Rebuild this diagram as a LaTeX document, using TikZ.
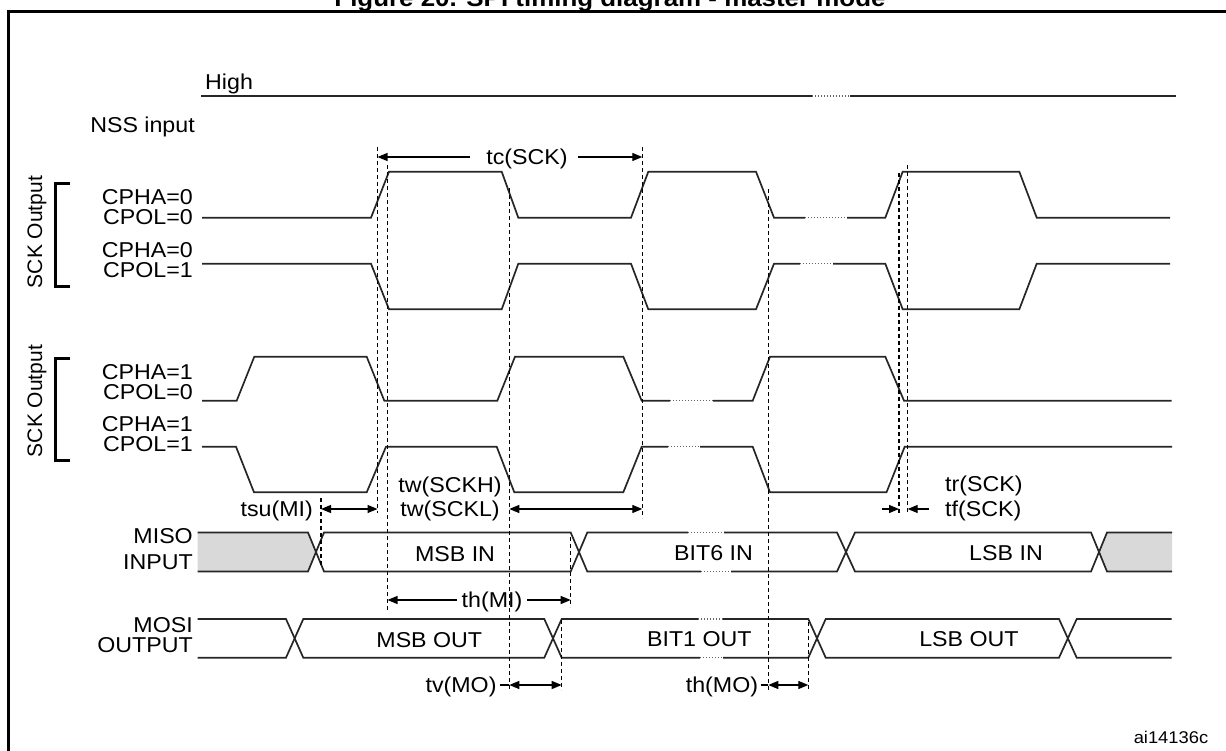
\documentclass[tikz,border=0pt]{standalone}
\usepackage{fontspec}
\setmainfont{Liberation Sans}[FakeStretch=1.08]
\newfontfamily\rotfont{Liberation Sans}
\usetikzlibrary{arrows.meta}
\begin{document}
\begin{tikzpicture}[x=1pt,y=-1pt,
  >={Triangle[length=10pt,width=8pt]},
  wave/.style={line width=1.7pt,draw=black!85,line join=miter},
  dsh/.style={line width=1.3pt,draw=black,dash pattern=on 4pt off 3pt},
  dotseg/.style={line width=1.1pt,draw=black!60,dash pattern=on 1pt off 2pt},
  lbl/.style={inner sep=0pt,text height=15.4pt,text depth=0pt,font=\fontsize{21.5}{21.5}\selectfont},
  rlbl/.style={lbl,anchor=east},
  brk/.style={line width=3pt},
  dim/.style={line width=1.2pt,draw=black},
  busfill/.style={fill={rgb,255:red,217;green,217;blue,217}},
  rot/.style={inner sep=0pt,rotate=90,font=\rotfont\fontsize{21}{21}\selectfont}
]
\useasboundingbox (0,0) rectangle (1226,751);

% title and frame
\node[anchor=base,inner sep=0pt,font=\bfseries\fontsize{24}{24}\selectfont] (title) at (610,6.5) {Figure 20. SPI timing diagram - master mode};
\draw[line width=3pt] (8,770) -- (8,12) -- (1240,12);

% NSS
\node[lbl,anchor=west] (high) at (205,82) {High};
\node[rlbl] (nss) at (195,125) {NSS input};
\draw[wave] (201,96) -- (812,96);
\draw[dotseg] (812,96) -- (850,96);
\draw[wave] (850,96) -- (1176,96);

% brackets and group labels
\draw[brk] (70,184) -- (55,184) -- (55,286.7) -- (70,286.7);
\draw[brk] (70,358.3) -- (55,358.3) -- (55,460) -- (70,460);
\node[rot] (g1) at (37,232) {SCK Output};
\node[rot] (g2) at (37,401) {SCK Output};

% row labels
\node[rlbl] (r1a) at (193,197) {CPHA=0};
\node[rlbl] (r1b) at (193,217) {CPOL=0};
\node[rlbl] (r2a) at (193,249.5) {CPHA=0};
\node[rlbl] (r2b) at (193,269.5) {CPOL=1};
\node[rlbl] (r3a) at (193,371.5) {CPHA=1};
\node[rlbl] (r3b) at (193,391.5) {CPOL=0};
\node[rlbl] (r4a) at (193,424) {CPHA=1};
\node[rlbl] (r4b) at (193,444) {CPOL=1};
\node[rlbl] (miso1) at (193,536) {MISO};
\node[rlbl] (miso2) at (193,562) {INPUT};
\node[rlbl] (mosi1) at (193,625) {MOSI};
\node[rlbl] (mosi2) at (193,645) {OUTPUT};

% row 1: CPHA=0 CPOL=0
\draw[wave] (202,217.7) -- (371,217.7) -- (389,171.7) -- (501.7,171.7) -- (518.3,217.7) -- (631,217.7) -- (648.3,171.7) -- (756,171.7) -- (774,217.7) -- (805,217.7);
\draw[dotseg] (805,217.7) -- (847,217.7);
\draw[wave] (847,217.7) -- (885.3,217.7) -- (902.7,171.7) -- (1019.3,171.7) -- (1036.7,217.7) -- (1170,217.7);

% row 2: CPHA=0 CPOL=1
\draw[wave] (202,263.7) -- (371,263.7) -- (389,309.3) -- (501.7,309.3) -- (518.3,263.7) -- (631,263.7) -- (648.3,309.3) -- (756,309.3) -- (774,263.7) -- (800,263.7);
\draw[dotseg] (800,263.7) -- (833,263.7);
\draw[wave] (833,263.7) -- (885.3,263.7) -- (902.7,309.3) -- (1019.3,309.3) -- (1036.7,263.7) -- (1170,263.7);

% row 3: CPHA=1 CPOL=0
\draw[wave] (202,400.7) -- (236.7,400.7) -- (254.3,356.7) -- (366.7,356.7) -- (384.3,400.7) -- (497.3,400.7) -- (515,356.7) -- (623.3,356.7) -- (641.7,400.7) -- (670,400.7);
\draw[dotseg] (670,400.7) -- (713,400.7);
\draw[wave] (713,400.7) -- (752.7,400.7) -- (770,356.7) -- (885.3,356.7) -- (904,400.7) -- (1171.7,400.7);

% row 4: CPHA=1 CPOL=1
\draw[wave] (202,446.7) -- (236,446.7) -- (254,492.3) -- (366.7,492.3) -- (386,446.7) -- (496.7,446.7) -- (514.3,492.3) -- (623.3,492.3) -- (641.7,446.7) -- (668,446.7);
\draw[dotseg] (668,446.7) -- (700,446.7);
\draw[wave] (700,446.7) -- (752.7,446.7) -- (770,492.3) -- (886.5,492.3) -- (904.7,446.7) -- (1172,446.7);

% MISO bus
\fill[busfill] (197.7,532.5) -- (308,532.5) -- (316,552) -- (308,571.5) -- (197.7,571.5) -- cycle;
\fill[busfill] (1172,532.5) -- (1107,532.5) -- (1099,552) -- (1107,571.5) -- (1172,571.5) -- cycle;
\draw[wave] (197.7,532.5) -- (308,532.5) -- (324,571.5) -- (570.7,571.5) -- (587.3,532.5) -- (688,532.5);
\draw[dotseg] (688,532.5) -- (724,532.5);
\draw[wave] (724,532.5) -- (837,532.5) -- (855,571.5) -- (1091,571.5) -- (1107,532.5) -- (1172,532.5);
\draw[wave] (197.7,571.5) -- (308,571.5) -- (324,532.5) -- (570.7,532.5) -- (587.3,571.5) -- (701,571.5);
\draw[dotseg] (701,571.5) -- (731,571.5);
\draw[wave] (731,571.5) -- (837,571.5) -- (855,532.5) -- (1091,532.5) -- (1107,571.5) -- (1172,571.5);
\node[lbl] (msbin) at (455,553.5) {MSB IN};
\node[lbl] (bit6) at (713.5,552.5) {BIT6 IN};
\node[lbl] (lsbin) at (1006,552.5) {LSB IN};

% MOSI bus
\draw[wave] (197.7,619) -- (286,619) -- (303.3,657.7) -- (544.3,657.7) -- (561.7,619) -- (698,619);
\draw[dotseg] (698,619) -- (723,619);
\draw[wave] (723,619) -- (808.3,619) -- (825.7,657.7) -- (1059,657.7) -- (1076.7,619) -- (1171.7,619);
\draw[wave] (197.7,657.7) -- (286,657.7) -- (303.3,619) -- (544.3,619) -- (561.7,657.7) -- (700,657.7);
\draw[dotseg] (700,657.7) -- (723,657.7);
\draw[wave] (723,657.7) -- (808.3,657.7) -- (825.7,619) -- (1059,619) -- (1076.7,657.7) -- (1171.7,657.7);
\node[lbl] (msbout) at (429.3,639.5) {MSB OUT};
\node[lbl] (bit1) at (699.3,639) {BIT1 OUT};
\node[lbl] (lsbout) at (969,639) {LSB OUT};

% dashed reference lines
\draw[dsh] (377.5,147) -- (377.5,513);
\draw[dsh] (387.5,165) -- (387.5,610);
\draw[dsh] (509.3,188) -- (509.3,690);
\draw[dsh] (642.3,147) -- (642.3,518);
\draw[dsh] (768.3,189) -- (768.3,690);
\draw[dsh] (899,173) -- (899,513);
\draw[dsh] (907.7,165) -- (907.7,513);
\draw[dsh] (321,498) -- (321,565);
\draw[dsh] (570.7,537) -- (570.7,607);
\draw[dsh] (561.7,620) -- (561.7,690);
\draw[dsh] (808.3,622) -- (808.3,690);

% timing annotations
\node[lbl] (tc) at (527,157) {tc(SCK)};
\draw[dim,->] (470,157) -- (377.5,157);
\draw[dim,->] (578,157) -- (642.3,157);

\node[lbl,anchor=east] (tsu) at (313,509) {tsu(MI)};
\draw[dim,<->] (321,509) -- (377.5,509);

\node[lbl] (twh) at (450,485) {tw(SCKH)};
\node[lbl] (twl) at (450,509) {tw(SCKL)};
\draw[dim,<->] (509.3,509) -- (642.3,509);

\node[lbl] (thmi) at (492,600) {th(MI)};
\draw[dim,->] (457,600) -- (387.5,600);
\draw[dim,->] (527,600) -- (570.7,600);

\node[lbl,anchor=east] (tvmo) at (496.7,685) {tv(MO)};
\draw[dim] (tvmo.east) ++(3,0) -- (509.3,685);
\draw[dim,<->] (509.3,685) -- (561.7,685);

\node[lbl,anchor=east] (thmo) at (758.3,685) {th(MO)};
\draw[dim] (thmo.east) ++(3,0) -- (768.3,685);
\draw[dim,<->] (768.3,685) -- (808.3,685);

\node[lbl,anchor=west] (tr) at (945,484) {tr(SCK)};
\node[lbl,anchor=west] (tf) at (945,509) {tf(SCK)};
\draw[dim,->] (881.6,509) -- (899,509);
\draw[dim,->] (929,509) -- (907.7,509);

\node[inner sep=0pt,font=\fontsize{17}{17}\selectfont] (ref) at (1171,737) {ai14136c};
\end{tikzpicture}
\end{document}
